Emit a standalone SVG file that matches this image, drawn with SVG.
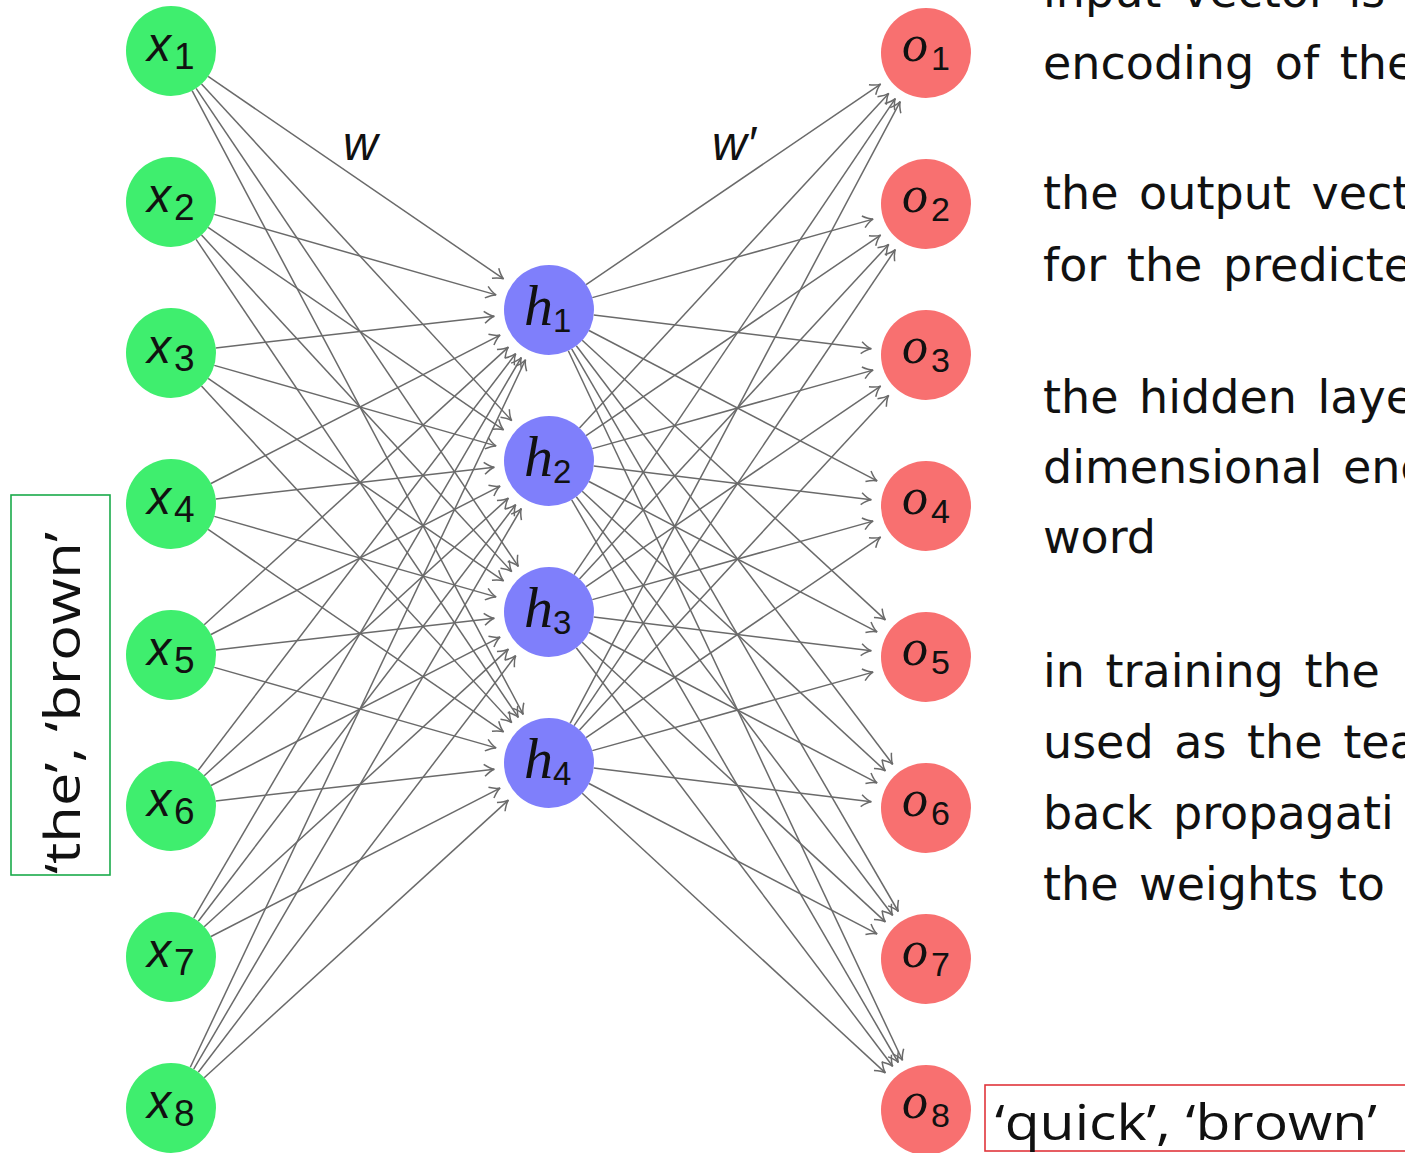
<svg xmlns="http://www.w3.org/2000/svg" width="1405" height="1153" viewBox="0 0 1405 1153">
<style>
.e{stroke:#6a6a6a;stroke-width:1.5;fill:none;marker-end:url(#arr)}
.xn{fill:#3fee6e}
.hn{fill:#7f7ffb}
.on{fill:#f87070}
.xl{font-family:"Liberation Sans",Arial,sans-serif;font-style:italic;font-size:48px;fill:#111}
.ml{font-family:"Liberation Serif","Times New Roman",serif;font-style:italic;fill:#111}
.sub{font-family:"Liberation Sans",Arial,sans-serif;font-style:normal;fill:#111}
.tx{font-family:"DejaVu Sans",sans-serif;font-size:46px;word-spacing:6px;fill:#111}
.lb{font-family:"Open Sans","DejaVu Sans",sans-serif;font-size:49px;fill:#111}
</style>
<defs>
<marker id="arr" markerUnits="userSpaceOnUse" viewBox="-11 -7 12 14" refX="0" refY="0" markerWidth="12" markerHeight="14" orient="auto" overflow="visible">
<path d="M-10,-6 C-5.5,-2.2 -2,-0.5 0,0 C-2,0.5 -5.5,2.2 -10,6" fill="none" stroke="#6a6a6a" stroke-width="1.5"/>
</marker>
</defs>
<rect width="1405" height="1153" fill="#ffffff"/>
<g id="connectors">
<line class="e" x1="208.1" y1="76.4" x2="503.6" y2="278.9"/>
<line class="e" x1="201.5" y1="84.1" x2="511.7" y2="420.6"/>
<line class="e" x1="196.1" y1="88.3" x2="518.3" y2="566.4"/>
<line class="e" x1="192.1" y1="90.7" x2="523.2" y2="714.4"/>
<line class="e" x1="214.3" y1="214.4" x2="496.1" y2="294.9"/>
<line class="e" x1="208.1" y1="227.4" x2="503.6" y2="429.9"/>
<line class="e" x1="201.5" y1="235.1" x2="511.7" y2="571.6"/>
<line class="e" x1="196.1" y1="239.3" x2="518.3" y2="717.4"/>
<line class="e" x1="215.7" y1="347.9" x2="494.3" y2="316.2"/>
<line class="e" x1="214.3" y1="365.4" x2="496.1" y2="445.9"/>
<line class="e" x1="208.1" y1="378.4" x2="503.6" y2="580.9"/>
<line class="e" x1="201.5" y1="386.1" x2="511.7" y2="722.6"/>
<line class="e" x1="211.0" y1="483.5" x2="500.1" y2="335.1"/>
<line class="e" x1="215.7" y1="498.9" x2="494.3" y2="467.2"/>
<line class="e" x1="214.3" y1="516.4" x2="496.1" y2="596.9"/>
<line class="e" x1="208.1" y1="529.4" x2="503.6" y2="731.9"/>
<line class="e" x1="204.2" y1="624.7" x2="508.4" y2="347.1"/>
<line class="e" x1="211.0" y1="634.5" x2="500.1" y2="486.1"/>
<line class="e" x1="215.7" y1="649.9" x2="494.3" y2="618.2"/>
<line class="e" x1="214.3" y1="667.4" x2="496.1" y2="747.9"/>
<line class="e" x1="198.3" y1="770.2" x2="515.7" y2="353.7"/>
<line class="e" x1="204.2" y1="775.7" x2="508.4" y2="498.1"/>
<line class="e" x1="211.0" y1="785.5" x2="500.1" y2="637.1"/>
<line class="e" x1="215.7" y1="800.9" x2="494.3" y2="769.2"/>
<line class="e" x1="193.7" y1="918.1" x2="521.3" y2="357.5"/>
<line class="e" x1="198.3" y1="921.2" x2="515.7" y2="504.7"/>
<line class="e" x1="204.2" y1="926.7" x2="508.4" y2="649.1"/>
<line class="e" x1="211.0" y1="936.5" x2="500.1" y2="788.1"/>
<line class="e" x1="190.3" y1="1067.3" x2="525.5" y2="359.7"/>
<line class="e" x1="193.7" y1="1069.1" x2="521.3" y2="508.5"/>
<line class="e" x1="198.3" y1="1072.2" x2="515.7" y2="655.7"/>
<line class="e" x1="204.2" y1="1077.7" x2="508.4" y2="800.1"/>
<line class="e" x1="586.1" y1="284.6" x2="880.6" y2="84.1"/>
<line class="e" x1="592.3" y1="297.6" x2="873.1" y2="219.1"/>
<line class="e" x1="593.7" y1="315.1" x2="871.3" y2="348.8"/>
<line class="e" x1="589.0" y1="330.5" x2="877.1" y2="480.9"/>
<line class="e" x1="582.2" y1="340.3" x2="885.4" y2="619.9"/>
<line class="e" x1="576.3" y1="345.8" x2="892.7" y2="764.3"/>
<line class="e" x1="571.7" y1="348.9" x2="898.3" y2="911.5"/>
<line class="e" x1="568.3" y1="350.7" x2="902.5" y2="1060.3"/>
<line class="e" x1="579.5" y1="427.9" x2="888.7" y2="93.4"/>
<line class="e" x1="586.1" y1="435.6" x2="880.6" y2="235.1"/>
<line class="e" x1="592.3" y1="448.6" x2="873.1" y2="370.1"/>
<line class="e" x1="593.7" y1="466.1" x2="871.3" y2="499.8"/>
<line class="e" x1="589.0" y1="481.5" x2="877.1" y2="631.9"/>
<line class="e" x1="582.2" y1="491.3" x2="885.4" y2="770.9"/>
<line class="e" x1="576.3" y1="496.8" x2="892.7" y2="915.3"/>
<line class="e" x1="571.7" y1="499.9" x2="898.3" y2="1062.5"/>
<line class="e" x1="574.1" y1="574.7" x2="895.3" y2="98.6"/>
<line class="e" x1="579.5" y1="578.9" x2="888.7" y2="244.4"/>
<line class="e" x1="586.1" y1="586.6" x2="880.6" y2="386.1"/>
<line class="e" x1="592.3" y1="599.6" x2="873.1" y2="521.1"/>
<line class="e" x1="593.7" y1="617.1" x2="871.3" y2="650.8"/>
<line class="e" x1="589.0" y1="632.5" x2="877.1" y2="782.9"/>
<line class="e" x1="582.2" y1="642.3" x2="885.4" y2="921.9"/>
<line class="e" x1="576.3" y1="647.8" x2="892.7" y2="1066.3"/>
<line class="e" x1="570.1" y1="723.3" x2="900.2" y2="101.6"/>
<line class="e" x1="574.1" y1="725.7" x2="895.3" y2="249.6"/>
<line class="e" x1="579.5" y1="729.9" x2="888.7" y2="395.4"/>
<line class="e" x1="586.1" y1="737.6" x2="880.6" y2="537.1"/>
<line class="e" x1="592.3" y1="750.6" x2="873.1" y2="672.1"/>
<line class="e" x1="593.7" y1="768.1" x2="871.3" y2="801.8"/>
<line class="e" x1="589.0" y1="783.5" x2="877.1" y2="933.9"/>
<line class="e" x1="582.2" y1="793.3" x2="885.4" y2="1072.9"/>
</g>
<g id="x1"><circle class="xn" cx="171" cy="51" r="45"/><text class="xl" x="147" y="61">x<tspan class="sub" font-size="37" dx="3" dy="8">1</tspan></text></g>
<g id="x2"><circle class="xn" cx="171" cy="202" r="45"/><text class="xl" x="147" y="212">x<tspan class="sub" font-size="37" dx="3" dy="8">2</tspan></text></g>
<g id="x3"><circle class="xn" cx="171" cy="353" r="45"/><text class="xl" x="147" y="363">x<tspan class="sub" font-size="37" dx="3" dy="8">3</tspan></text></g>
<g id="x4"><circle class="xn" cx="171" cy="504" r="45"/><text class="xl" x="147" y="514">x<tspan class="sub" font-size="37" dx="3" dy="8">4</tspan></text></g>
<g id="x5"><circle class="xn" cx="171" cy="655" r="45"/><text class="xl" x="147" y="665">x<tspan class="sub" font-size="37" dx="3" dy="8">5</tspan></text></g>
<g id="x6"><circle class="xn" cx="171" cy="806" r="45"/><text class="xl" x="147" y="816">x<tspan class="sub" font-size="37" dx="3" dy="8">6</tspan></text></g>
<g id="x7"><circle class="xn" cx="171" cy="957" r="45"/><text class="xl" x="147" y="967">x<tspan class="sub" font-size="37" dx="3" dy="8">7</tspan></text></g>
<g id="x8"><circle class="xn" cx="171" cy="1108" r="45"/><text class="xl" x="147" y="1118">x<tspan class="sub" font-size="37" dx="3" dy="8">8</tspan></text></g>
<g id="h1"><circle class="hn" cx="549" cy="310" r="45"/><text class="ml" font-size="58" x="524" y="325">h<tspan class="sub" font-size="33" dx="0" dy="7">1</tspan></text></g>
<g id="h2"><circle class="hn" cx="549" cy="461" r="45"/><text class="ml" font-size="58" x="524" y="476">h<tspan class="sub" font-size="33" dx="0" dy="7">2</tspan></text></g>
<g id="h3"><circle class="hn" cx="549" cy="612" r="45"/><text class="ml" font-size="58" x="524" y="627">h<tspan class="sub" font-size="33" dx="0" dy="7">3</tspan></text></g>
<g id="h4"><circle class="hn" cx="549" cy="763" r="45"/><text class="ml" font-size="58" x="524" y="778">h<tspan class="sub" font-size="33" dx="0" dy="7">4</tspan></text></g>
<g id="o1"><circle class="on" cx="926" cy="53" r="45"/><text class="ml" font-size="52" x="902" y="61">o<tspan class="sub" font-size="34" dx="3" dy="9">1</tspan></text></g>
<g id="o2"><circle class="on" cx="926" cy="204" r="45"/><text class="ml" font-size="52" x="902" y="212">o<tspan class="sub" font-size="34" dx="3" dy="9">2</tspan></text></g>
<g id="o3"><circle class="on" cx="926" cy="355" r="45"/><text class="ml" font-size="52" x="902" y="363">o<tspan class="sub" font-size="34" dx="3" dy="9">3</tspan></text></g>
<g id="o4"><circle class="on" cx="926" cy="506" r="45"/><text class="ml" font-size="52" x="902" y="514">o<tspan class="sub" font-size="34" dx="3" dy="9">4</tspan></text></g>
<g id="o5"><circle class="on" cx="926" cy="657" r="45"/><text class="ml" font-size="52" x="902" y="665">o<tspan class="sub" font-size="34" dx="3" dy="9">5</tspan></text></g>
<g id="o6"><circle class="on" cx="926" cy="808" r="45"/><text class="ml" font-size="52" x="902" y="816">o<tspan class="sub" font-size="34" dx="3" dy="9">6</tspan></text></g>
<g id="o7"><circle class="on" cx="926" cy="959" r="45"/><text class="ml" font-size="52" x="902" y="967">o<tspan class="sub" font-size="34" dx="3" dy="9">7</tspan></text></g>
<g id="o8"><circle class="on" cx="926" cy="1110" r="45"/><text class="ml" font-size="52" x="902" y="1118">o<tspan class="sub" font-size="34" dx="3" dy="9">8</tspan></text></g>
<g id="weight-labels">
<text class="xl" x="343" y="160">w</text>
<text class="xl" x="712" y="160">w′</text>
</g>
<g id="input-label">
<rect x="11" y="495" width="99" height="380" fill="none" stroke="#1aaa4a" stroke-width="1.6"/>
<text class="lb" transform="translate(80,874) rotate(-90)" x="0" y="0" textLength="342" lengthAdjust="spacingAndGlyphs">‘the’, ‘brown’</text>
</g>
<g id="output-label">
<rect x="985" y="1085" width="430" height="66" fill="none" stroke="#e0353b" stroke-width="1.6"/>
<text class="lb" x="995" y="1140" textLength="382" lengthAdjust="spacingAndGlyphs">‘quick’, ‘brown’</text>
</g>
<g id="notes">
<text class="tx" x="1043" y="7">input vector is</text>
<text class="tx" x="1043" y="79">encoding of the</text>
<text class="tx" x="1043" y="209">the output vect</text>
<text class="tx" x="1043" y="281">for the predicte</text>
<text class="tx" x="1043" y="413">the hidden laye</text>
<text class="tx" x="1043" y="483">dimensional enc</text>
<text class="tx" x="1043" y="553">word</text>
<text class="tx" x="1043" y="687">in training the</text>
<text class="tx" x="1043" y="758">used as the tea</text>
<text class="tx" x="1043" y="829">back propagati</text>
<text class="tx" x="1043" y="900">the weights to</text>
</g>
</svg>
